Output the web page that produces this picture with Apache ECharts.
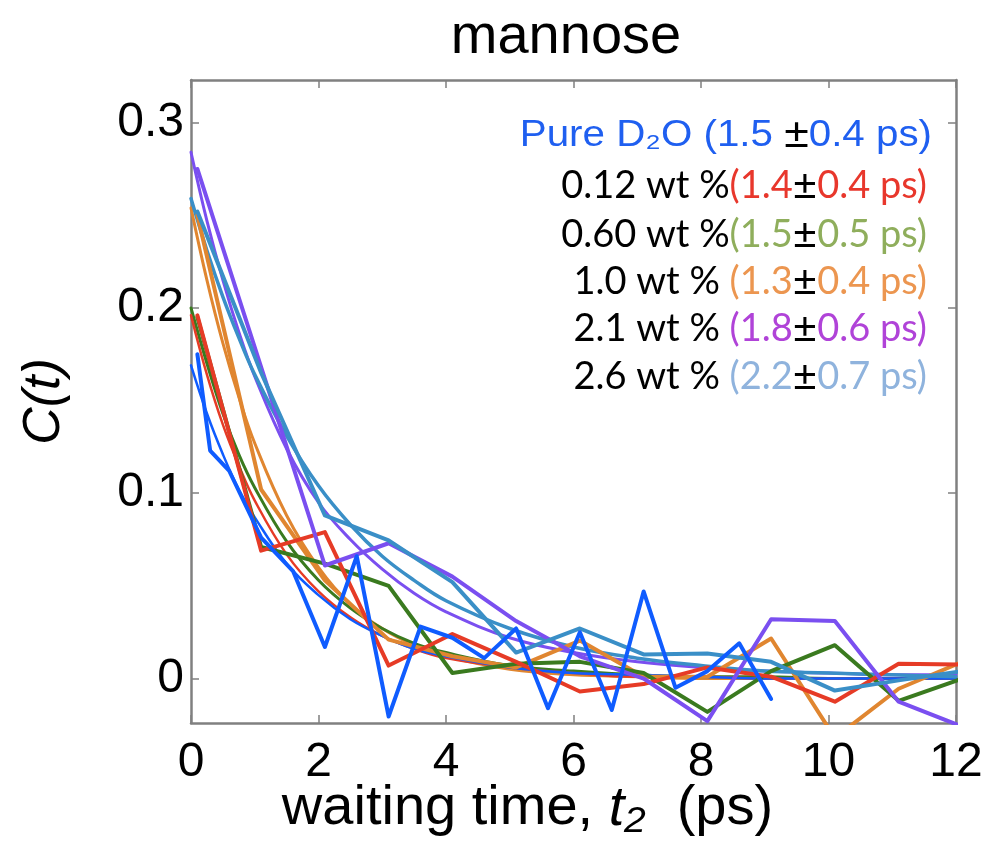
<!DOCTYPE html>
<html>
<head>
<meta charset="utf-8">
<script src="https://cdn.jsdelivr.net/npm/echarts@6/dist/echarts.min.js"></script>
<style>
html,body{margin:0;padding:0;background:#fff;}
#chart{width:989px;height:841px;}
</style>
</head>
<body>
<div id="chart"></div>
<script>
// ---- data ----
var xTicks = [0, 2, 4, 6, 8, 10, 12];
var yTicks = [0, 0.1, 0.2, 0.3];

// measured points, 1 ps spacing
var tData = [0.1, 1.1, 2.1, 3.1, 4.1, 5.1, 6.1, 7.1, 8.1, 9.1, 10.1, 11.1, 12.1];
var red012Data   = [0.196, 0.069, 0.079, 0.007, 0.024, 0.009, -0.007, -0.003, 0.006, 0.001, -0.0125, 0.008, 0.0075];
var green060Data = [0.195, 0.071, 0.062, 0.050, 0.003, 0.008, 0.009, 0.003, -0.018, 0.004, 0.018, -0.012, 0.000];
var orange10Data = [0.250, 0.102, 0.053, 0.021, 0.012, 0.006, 0.0205, 0.001, 0.001, 0.0216, -0.032, -0.0055, 0.009];
var purple21Data = [0.275, 0.168, 0.061, 0.073, 0.055, 0.031, 0.012, 0.000, -0.023, 0.032, 0.031, -0.0125, -0.026];
var steel26Data  = [0.252, 0.165, 0.088, 0.0745, 0.052, 0.0140, 0.027, 0.0130, 0.0135, 0.009, -0.0065, -0.001, 0.004];

// pure D2O, 0.5 ps spacing
var tBlue = [0.1, 0.3, 0.6, 1.1, 1.6, 2.1, 2.6, 3.1, 3.6, 4.1, 4.6, 5.1, 5.6, 6.1, 6.6, 7.1, 7.6, 8.1, 8.6, 9.1];
var blueD2OData = [0.175, 0.123, 0.112, 0.076, 0.058, 0.017, 0.066, -0.0205, 0.028, 0.022, 0.011, 0.027, -0.016, 0.025, -0.017, 0.047, -0.005, 0.004, 0.019, -0.011];

// fitted decay curves
var tFit = [0, 0.25, 0.5, 0.75, 1, 1.5, 2, 2.5, 3, 3.5, 4, 5, 6, 7, 8, 9, 10, 11, 12];
var blueD2OFit  = [0.169, 0.143, 0.121, 0.102, 0.087, 0.062, 0.045, 0.032, 0.023, 0.016, 0.012, 0.006, 0.003, 0.002, 0.001, 0.000, 0.000, 0.000, 0.000];
var red012Fit   = [0.196, 0.164, 0.137, 0.115, 0.096, 0.067, 0.047, 0.033, 0.023, 0.016, 0.011, 0.006, 0.003, 0.001, 0.001, 0.000, 0.000, 0.000, 0.000];
var green060Fit = [0.200, 0.170, 0.143, 0.121, 0.103, 0.074, 0.053, 0.038, 0.027, 0.019, 0.014, 0.007, 0.004, 0.002, 0.001, 0.001, 0.000, 0.000, 0.000];
var orange10Fit = [0.254, 0.215, 0.181, 0.152, 0.127, 0.088, 0.060, 0.040, 0.027, 0.018, 0.012, 0.005, 0.002, 0.001, 0.000, 0.000, 0.000, 0.000, 0.000];
var purple21Fit = [0.284, 0.247, 0.215, 0.187, 0.163, 0.124, 0.095, 0.075, 0.059, 0.046, 0.036, 0.022, 0.014, 0.009, 0.006, 0.004, 0.003, 0.002, 0.002];
var steel26Fit  = [0.259, 0.231, 0.206, 0.184, 0.164, 0.131, 0.104, 0.083, 0.066, 0.053, 0.042, 0.027, 0.017, 0.011, 0.007, 0.004, 0.003, 0.002, 0.001];

// ---- helpers ----
function pairs(ts, vs) { return ts.map(function (t, i) { return [t, vs[i]]; }); }
function line(name, ts, vs, color, width, smooth) {
  return {
    name: name, type: 'line', data: pairs(ts, vs), symbol: 'none', clip: true,
    smooth: smooth ? 0.4 : false,
    lineStyle: { color: color, width: width, join: 'round', cap: 'round' },
    emphasis: { disabled: true }, silent: true
  };
}

var C = {
  blue: '#0f5cff', red: '#e63b26', green: '#3a7a1f',
  orange: '#e08630', purple: '#7a4ff0', steel: '#3a8fc7'
};

var FONT = 'Liberation Sans, Arial, sans-serif';
var axisCol = '#808080';
var chart = echarts.init(document.getElementById('chart'), null, { renderer: 'canvas' });

var option = {
  animation: false,
  backgroundColor: '#ffffff',
  grid: { left: 191, right: 33, top: 80, bottom: 118, containLabel: false, outerBoundsMode: 'none' },
  xAxis: [{
    type: 'value', min: 0, max: 12, interval: 2, position: 'bottom',
    axisLine: { show: true, onZero: false, lineStyle: { color: axisCol, width: 2.5 } },
    axisTick: { show: true, inside: true, length: 8, lineStyle: { color: axisCol, width: 1.5 } },
    splitLine: { show: false },
    axisLabel: { color: '#000', fontSize: 48, fontFamily: FONT, margin: 16,
      formatter: function (v) { return xTicks.indexOf(v) >= 0 ? String(v) : ''; } },
    name: '{n|waiting time, }{i|t₂}{n|  (ps)}',
    nameLocation: 'middle', nameGap: 58, nameMoveOverlap: false,
    nameTextStyle: {
      padding: [0, 92, 0, 0],
      rich: {
        n: { fontSize: 56, fontFamily: FONT, color: '#000' },
        i: { fontSize: 56, fontStyle: 'italic', fontFamily: FONT, color: '#000' }
      }
    }
  }, {
    type: 'value', min: 0, max: 12, interval: 2, position: 'top',
    axisLine: { show: true, onZero: false, lineStyle: { color: axisCol, width: 2.5 } },
    axisTick: { show: true, inside: true, length: 8, lineStyle: { color: axisCol, width: 1.5 } },
    axisLabel: { show: false }, splitLine: { show: false }
  }],
  yAxis: [{
    type: 'value', min: -0.024, max: 0.323, position: 'left',
    axisLine: { show: true, onZero: false, lineStyle: { color: axisCol, width: 2.5 } },
    axisTick: { show: true, inside: true, length: 8, customValues: yTicks, lineStyle: { color: axisCol, width: 1.5 } },
    splitLine: { show: false },
    axisLabel: { color: '#000', fontSize: 48, fontFamily: FONT, margin: 7,
      customValues: yTicks,
      formatter: function (v) { return String(Math.round(v * 10) / 10); } },
    name: 'C(t)', nameLocation: 'middle', nameGap: 120, nameRotate: 90, nameMoveOverlap: false,
    nameTextStyle: { fontSize: 52, fontStyle: 'italic', fontFamily: FONT, color: '#000' }
  }, {
    type: 'value', min: -0.024, max: 0.323, position: 'right',
    axisLine: { show: true, onZero: false, lineStyle: { color: axisCol, width: 2.5 } },
    axisTick: { show: true, inside: true, length: 8, customValues: yTicks, lineStyle: { color: axisCol, width: 1.5 } },
    axisLabel: { show: false }, splitLine: { show: false }
  }],
  series: [
    line('1.0 wt % fit', tFit, orange10Fit, C.orange, 3, true),
    line('0.60 wt % fit', tFit, green060Fit, C.green, 3, true),
    line('0.12 wt % fit', tFit, red012Fit, C.red, 2.5, true),
    line('Pure D2O fit', tFit, blueD2OFit, C.blue, 2.5, true),
    line('2.1 wt % fit', tFit, purple21Fit, C.purple, 3, true),
    line('2.6 wt % fit', tFit, steel26Fit, C.steel, 3.5, true),
    line('1.0 wt %', tData, orange10Data, C.orange, 4, false),
    line('0.60 wt %', tData, green060Data, C.green, 4, false),
    line('0.12 wt %', tData, red012Data, C.red, 4, false),
    line('2.1 wt %', tData, purple21Data, C.purple, 4, false),
    line('2.6 wt %', tData, steel26Data, C.steel, 4, false),
    line('Pure D2O', tBlue, blueD2OData, C.blue, 4, false)
  ],
  graphic: [
    { type: 'text', x: 566, y: 38, silent: true,
      style: { text: 'mannose', fill: '#000', font: '56px "Liberation Sans", Arial, sans-serif', align: 'center', verticalAlign: 'middle' } },
    { type: 'text', x: 932, y: 136, scaleX: 1.12, silent: true,
      style: { text: '{b|Pure D₂O (1.5 }{k|±}{b|0.4 ps)}', align: 'right', verticalAlign: 'middle',
        rich: {
          b: { fill: '#1f5ff0', fontSize: 36, fontFamily: FONT },
          k: { fill: '#000', fontSize: 40, fontFamily: FONT }
        } } },
    { type: 'text', x: 927, y: 186, silent: true,
      style: { text: '{k|0.12 wt %}{c|(1.4}{p|±}{c|0.4 ps)}', align: 'right', verticalAlign: 'middle',
        rich: { k: { fill: '#000', fontSize: 38, fontFamily: 'Lato, sans-serif' }, p: { fill: '#000', fontSize: 42, fontFamily: 'Lato, sans-serif' }, c: { fill: '#e8372c', fontSize: 38, fontFamily: 'Lato, sans-serif' } } } },
    { type: 'text', x: 927, y: 235, silent: true,
      style: { text: '{k|0.60 wt %}{c|(1.5}{p|±}{c|0.5 ps)}', align: 'right', verticalAlign: 'middle',
        rich: { k: { fill: '#000', fontSize: 38, fontFamily: 'Lato, sans-serif' }, p: { fill: '#000', fontSize: 42, fontFamily: 'Lato, sans-serif' }, c: { fill: '#8fae5c', fontSize: 38, fontFamily: 'Lato, sans-serif' } } } },
    { type: 'text', x: 927, y: 282, silent: true,
      style: { text: '{k|1.0 wt % }{c|(1.3}{p|±}{c|0.4 ps)}', align: 'right', verticalAlign: 'middle',
        rich: { k: { fill: '#000', fontSize: 38, fontFamily: 'Lato, sans-serif' }, p: { fill: '#000', fontSize: 42, fontFamily: 'Lato, sans-serif' }, c: { fill: '#ec9650', fontSize: 38, fontFamily: 'Lato, sans-serif' } } } },
    { type: 'text', x: 927, y: 329, silent: true,
      style: { text: '{k|2.1 wt % }{c|(1.8}{p|±}{c|0.6 ps)}', align: 'right', verticalAlign: 'middle',
        rich: { k: { fill: '#000', fontSize: 38, fontFamily: 'Lato, sans-serif' }, p: { fill: '#000', fontSize: 42, fontFamily: 'Lato, sans-serif' }, c: { fill: '#b043d8', fontSize: 38, fontFamily: 'Lato, sans-serif' } } } },
    { type: 'text', x: 927, y: 377, silent: true,
      style: { text: '{k|2.6 wt % }{c|(2.2}{p|±}{c|0.7 ps)}', align: 'right', verticalAlign: 'middle',
        rich: { k: { fill: '#000', fontSize: 38, fontFamily: 'Lato, sans-serif' }, p: { fill: '#000', fontSize: 42, fontFamily: 'Lato, sans-serif' }, c: { fill: '#8fb3dd', fontSize: 38, fontFamily: 'Lato, sans-serif' } } } }
  ]
};
chart.setOption(option);
</script>
</body>
</html>
